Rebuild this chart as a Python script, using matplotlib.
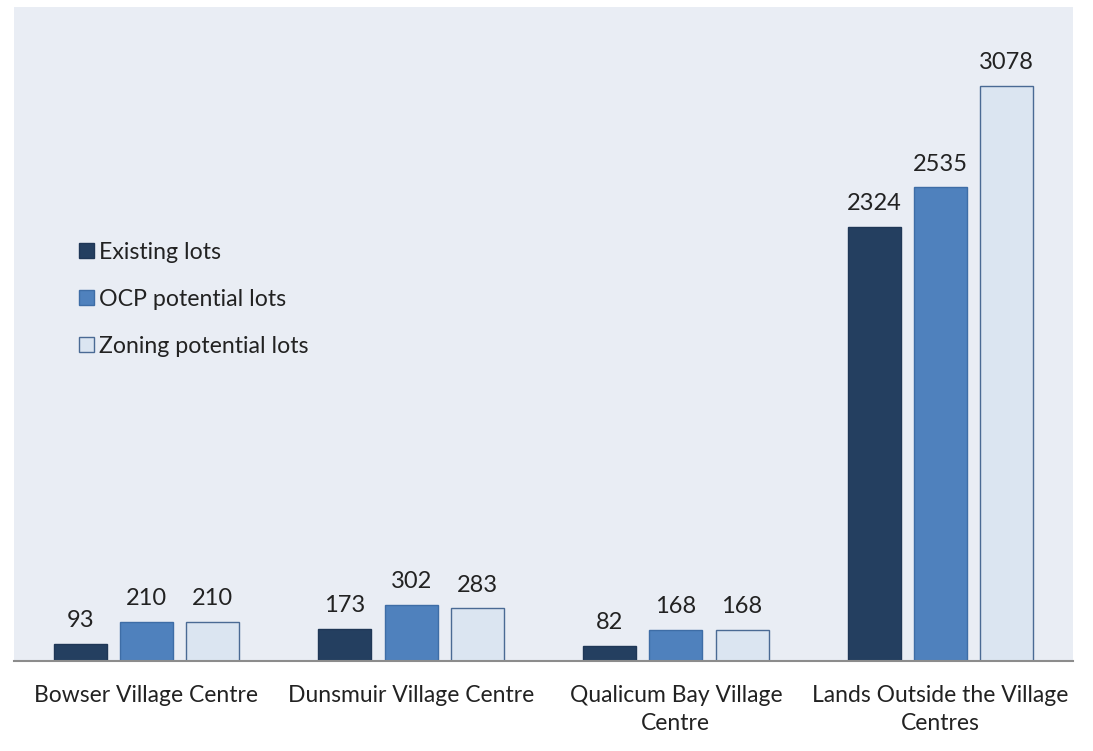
import matplotlib
matplotlib.use("Agg")
import matplotlib.pyplot as plt
from matplotlib.patches import Patch
import numpy as np

categories = ["Bowser Village Centre", "Dunsmuir Village Centre",
              "Qualicum Bay Village\nCentre", "Lands Outside the Village\nCentres"]
existing = [93, 173, 82, 2324]
ocp = [210, 302, 168, 2535]
zoning = [210, 283, 168, 3078]
series_names = ["Existing lots", "OCP potential lots", "Zoning potential lots"]

plt.rcParams['font.family'] = ['Lato', 'DejaVu Sans']

fig = plt.figure(figsize=(10.93, 7.51), dpi=100)
ax = fig.add_axes([14/1093, 1-661/751, (1073-14)/1093, (661-7)/751])
ax.set_facecolor('#e9edf4')

x = np.arange(len(categories))
w = 0.2
fills = ['#243f60', '#4f81bd', '#dbe5f1']
edges = ['#1f3756', '#3e6da6', '#4a6a94']
for i, (vals, name) in enumerate(zip([existing, ocp, zoning], series_names)):
    bars = ax.bar(x + (i - 1) * 0.25, vals, w, color=fills[i], edgecolor=edges[i],
                  linewidth=1.0, label=name, zorder=2)
    ax.bar_label(bars, padding=9, fontsize=17, color='#222222')

ax.set_xlim(-0.5, 3.5)
ax.set_ylim(0, 3500)
ax.set_yticks([])
ax.set_xticks(x)
ax.set_xticklabels(categories, fontsize=16.5, color='#222222', linespacing=1.45)
ax.tick_params(axis='x', length=0, pad=17)
for s in ['top', 'left', 'right']:
    ax.spines[s].set_visible(False)
ax.spines['bottom'].set_color('#8c8c8c')
ax.spines['bottom'].set_linewidth(1.5)

handles = [Patch(facecolor=fills[i], edgecolor=edges[i], label=series_names[i]) for i in range(3)]
leg = ax.legend(handles=handles, loc='upper left', bbox_to_anchor=(0.042, 0.673),
                frameon=False, fontsize=16.7, handlelength=0.65, handleheight=0.65,
                handletextpad=0.2, labelspacing=1.12)
for t in leg.get_texts():
    t.set_color('#222222')

fig.savefig('out.png', dpi=100, facecolor='white')
